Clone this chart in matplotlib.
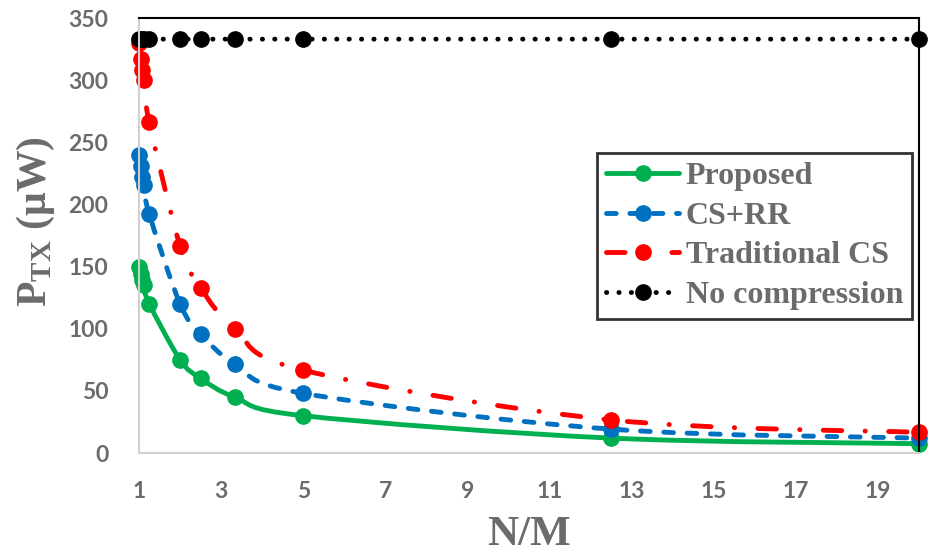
import numpy as np
import matplotlib
matplotlib.use("Agg")
import matplotlib.pyplot as plt
from matplotlib.path import Path
from matplotlib.patches import PathPatch
from matplotlib.lines import Line2D

plt.rcParams['mathtext.fontset'] = 'custom'
plt.rcParams['mathtext.rm'] = 'Liberation Serif:bold'
plt.rcParams['mathtext.bf'] = 'Liberation Serif:bold'

# data
nm = [1, 1.04, 1.08, 1.11, 1.25, 2, 2.5, 3.33, 5, 12.5, 20]
proposed = [150, 144, 139, 135, 120, 75, 60, 45, 30, 12, 7.5]
cs_rr = [240, 231, 222, 216, 192, 120, 96, 72, 48, 19.2, 12]
trad_cs = [330, 317, 308, 300, 266, 166.5, 133, 100, 66.6, 26.6, 16.6]
nm_nocomp = [1, 1.04, 1.08, 1.11, 1.25, 2, 2.5, 3.33, 5, 12.5, 20]
no_comp = [333, 333, 333, 333, 333, 333, 333, 333, 333, 333, 333]

labels = ["Proposed", "CS+RR", "Traditional CS", "No compression"]
colors = ["#00b050", "#0070c0", "#ff0000", "#000000"]
styles = ["-", (0, (2.0, 2.8)), (0, (3.8, 4.8, 0.05, 4.8)), (0, (0.05, 2.5))]
xticks = [1, 3, 5, 7, 9, 11, 13, 15, 17, 19]
yticks = [0, 50, 100, 150, 200, 250, 300, 350]

gray = "#6b6b6b"


def smooth(x, y):
    # Excel-like smoothed line: cubic bezier through the points
    p = np.column_stack([x, y]).astype(float)
    verts = [p[0]]
    codes = [Path.MOVETO]
    n = len(p)
    for i in range(n - 1):
        p0 = p[i - 1] if i > 0 else p[i]
        p1 = p[i]
        p2 = p[i + 1]
        p3 = p[i + 2] if i + 2 < n else p[i + 1]
        verts += [p1 + (p2 - p0) / 6, p2 - (p3 - p1) / 6, p2]
        codes += [Path.CURVE4] * 3
    return Path(verts, codes)


fig = plt.figure(figsize=(9.3, 5.54), dpi=100)
ax = fig.add_axes([0.1495, 0.1823, 0.8387, 0.7852])

series = [(nm, proposed), (nm, cs_rr), (nm, trad_cs), (nm_nocomp, no_comp)]
handles = []
lw = 3.5
ms = 11
for (x, y), c, ls, lab in zip(series, colors, styles, labels):
    patch = PathPatch(smooth(x, y), fill=False, edgecolor=c, lw=lw,
                      linestyle=ls, capstyle='round', clip_on=False)
    ax.add_patch(patch)
    ax.plot(x, y, 'o', color=c, ms=ms, clip_on=False)
    handles.append(Line2D([], [], color=c, lw=lw, ls=ls, marker='o', ms=ms,
                          dash_capstyle='round', solid_capstyle='round'))

ax.set_xlim(1, 20)
ax.set_ylim(0, 350)
ax.set_xticks(xticks)
ax.set_yticks(yticks)
ax.tick_params(length=0, labelcolor=gray, labelsize=16.5)
ax.tick_params(axis='x', pad=20)
ax.tick_params(axis='y', pad=22)
for lab in ax.get_xticklabels() + ax.get_yticklabels():
    lab.set_fontfamily('Lato')
    lab.set_fontweight('bold')

ax.spines['left'].set_color('#d0d0d0')
ax.spines['bottom'].set_color('#d0d0d0')
ax.spines['left'].set_linewidth(1.5)
ax.spines['bottom'].set_linewidth(1.5)
ax.spines['top'].set_color('black')
ax.spines['right'].set_color('black')
ax.spines['top'].set_linewidth(1.5)
ax.spines['right'].set_linewidth(1.5)

fig.text(0.5688, 1 - 535 / 554, "N/M", ha='center', va='center', fontsize=31,
         family='Liberation Serif', weight='bold', color=gray)
fig.text(36 / 930, 1 - 222 / 554, r"$\mathrm{P_{TX}}$ (μW)", rotation=90,
         ha='center', va='center', fontsize=30, family='Liberation Serif',
         weight='bold', color=gray)

leg = ax.legend(handles, labels, loc='upper right', bbox_to_anchor=(0.991, 0.69),
                borderaxespad=0, fancybox=False, edgecolor='black', handlelength=2.3,
                handletextpad=0.2, labelspacing=0.32, borderpad=0.28, numpoints=1,
                prop={'family': 'Liberation Serif', 'weight': 'bold', 'size': 23})
leg.get_frame().set_linewidth(2)
for t in leg.get_texts():
    t.set_color(gray)

fig.savefig("out.png", dpi=100)
